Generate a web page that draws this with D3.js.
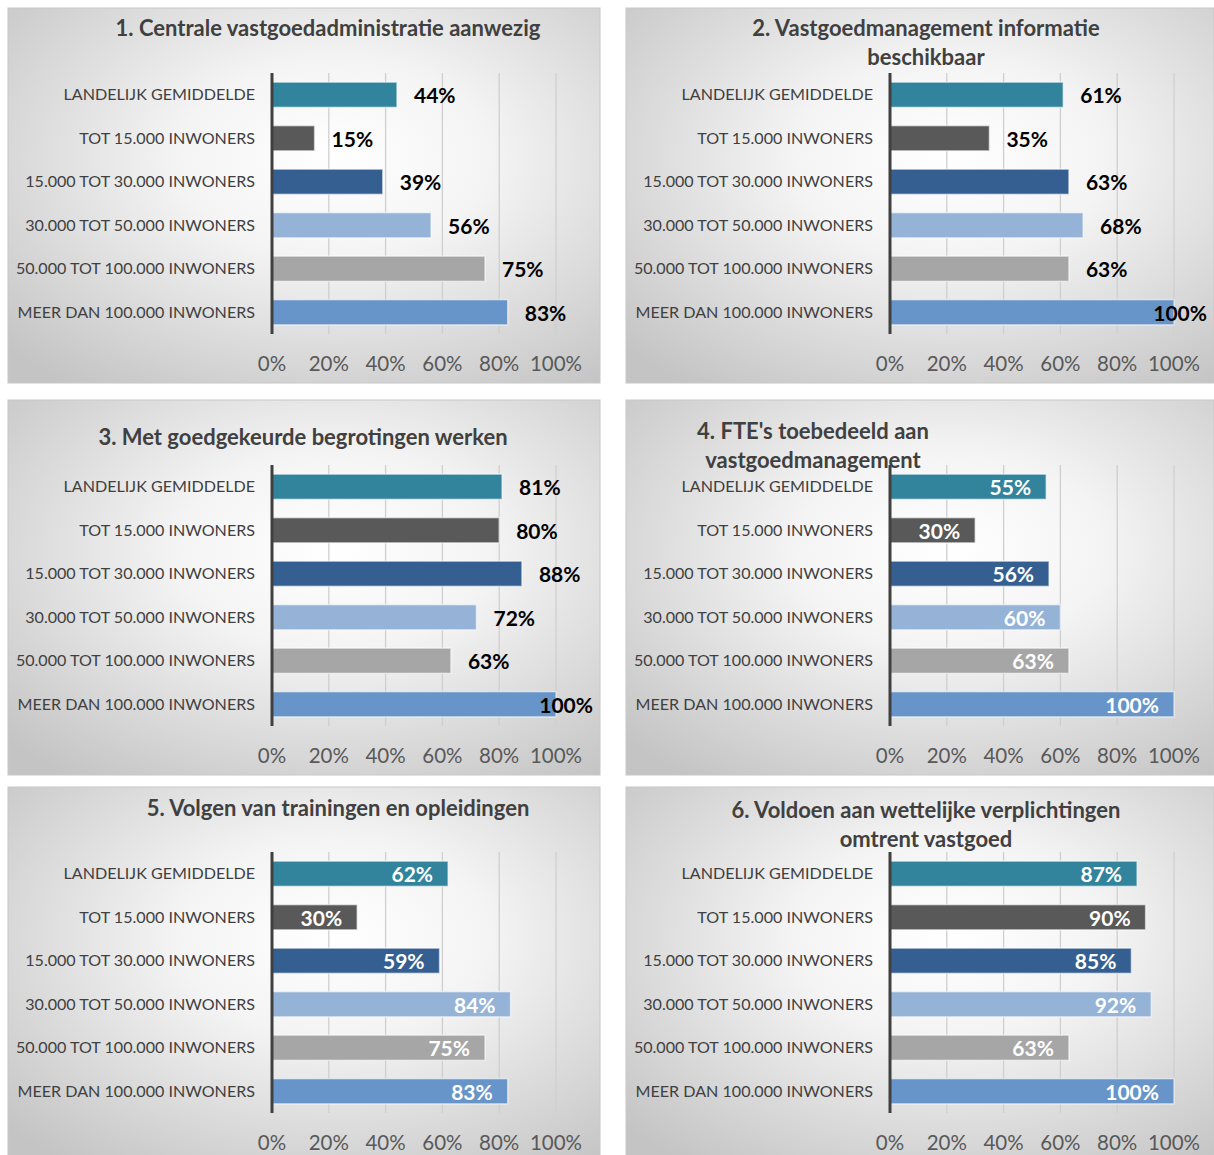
<!DOCTYPE html>
<html>
<head>
<meta charset="utf-8">
<script src="https://cdn.jsdelivr.net/npm/d3@7"></script>
<style>
  html, body { margin: 0; padding: 0; background: #ffffff; }
  svg { display: block; font-family: Lato, "Open Sans", sans-serif; }
</style>
</head>
<body>
<svg id="chart" width="1214" height="1155"></svg>
<script>
const categories = [
  "LANDELIJK GEMIDDELDE",
  "TOT 15.000 INWONERS",
  "15.000 TOT 30.000 INWONERS",
  "30.000 TOT 50.000 INWONERS",
  "50.000 TOT 100.000 INWONERS",
  "MEER DAN 100.000 INWONERS"
];
const tickValues = [0, 20, 40, 60, 80, 100];
const tickLabels = ["0%", "20%", "40%", "60%", "80%", "100%"];

const titles1 = ["1. Centrale vastgoedadministratie aanwezig"];
const titles2 = ["2. Vastgoedmanagement informatie", "beschikbaar"];
const titles3 = ["3. Met goedgekeurde begrotingen werken"];
const titles4 = ["4. FTE's toebedeeld aan", "vastgoedmanagement"];
const titles5 = ["5. Volgen van trainingen en opleidingen"];
const titles6 = ["6. Voldoen aan wettelijke verplichtingen", "omtrent vastgoed"];

const values1 = [44, 15, 39, 56, 75, 83];
const values2 = [61, 35, 63, 68, 63, 100];
const values3 = [81, 80, 88, 72, 63, 100];
const values4 = [55, 30, 56, 60, 63, 100];
const values5 = [62, 30, 59, 84, 75, 83];
const values6 = [87, 90, 85, 92, 63, 100];

const barColors = ["#31849B", "#595959", "#365F91", "#95B3D7", "#A6A6A6", "#6794C9"];

const panels = [
  { x: 8,   y: 8,   w: 592, titles: titles1, values: values1, inside: false, tx: 320, ty: 20 },
  { x: 626, y: 8,   w: 588, titles: titles2, values: values2, inside: false, tx: 300, ty: 20 },
  { x: 8,   y: 400, w: 592, titles: titles3, values: values3, inside: false, tx: 295, ty: 37 },
  { x: 626, y: 400, w: 588, titles: titles4, values: values4, inside: true,  tx: 187, ty: 31 },
  { x: 8,   y: 787, w: 592, titles: titles5, values: values5, inside: true,  tx: 330, ty: 21 },
  { x: 626, y: 787, w: 588, titles: titles6, values: values6, inside: true,  tx: 300, ty: 23 }
];

const svg = d3.select("#chart");
const defs = svg.append("defs");
const grad = defs.append("radialGradient")
  .attr("id", "bg").attr("cx", "55%").attr("cy", "40%").attr("r", "75%");
grad.append("stop").attr("offset", "0%").attr("stop-color", "#ffffff");
grad.append("stop").attr("offset", "35%").attr("stop-color", "#f4f4f4");
grad.append("stop").attr("offset", "100%").attr("stop-color", "#c4c4c4");

const PH = 375;
panels.forEach(p => {
  const g = svg.append("g").attr("transform", `translate(${p.x},${p.y})`);
  g.append("rect").attr("width", p.w).attr("height", PH)
    .attr("fill", "url(#bg)").attr("stroke", "#c8c8c8").attr("stroke-width", 1);

  const axisX = 264;
  const x = d3.scaleLinear().domain([0, 100]).range([axisX, axisX + 284]);
  const y = d3.scaleBand().domain(categories).range([65, 326]).paddingInner(0.42).paddingOuter(0.21);

  // gridlines
  g.selectAll("line.grid").data(tickValues.slice(1)).join("line")
    .attr("class", "grid")
    .attr("x1", d => x(d)).attr("x2", d => x(d))
    .attr("y1", 65).attr("y2", 326)
    .attr("stroke", "#cfcfcf").attr("stroke-width", 1.3);

  // bars
  g.selectAll("rect.bar").data(p.values).join("rect")
    .attr("class", "bar")
    .attr("x", x(0))
    .attr("y", (d, i) => y(categories[i]))
    .attr("width", d => x(d) - x(0))
    .attr("height", y.bandwidth())
    .attr("fill", (d, i) => barColors[i])
    .attr("stroke", "rgba(255,255,255,0.55)")
    .attr("stroke-width", 1.5);

  // axis line
  g.append("line").attr("x1", axisX).attr("x2", axisX).attr("y1", 65).attr("y2", 326)
    .attr("stroke", "#404040").attr("stroke-width", 3);

  // category labels
  g.selectAll("text.cat").data(categories).join("text")
    .attr("class", "cat")
    .attr("x", 247)
    .attr("y", d => y(d) + y.bandwidth() / 2)
    .attr("dy", "0.35em")
    .attr("text-anchor", "end")
    .attr("font-size", 16.1)
    .attr("fill", "#404040")
    .text(d => d);

  // tick labels
  g.selectAll("text.tick").data(tickValues).join("text")
    .attr("class", "tick")
    .attr("x", d => x(d))
    .attr("y", 356)
    .attr("dy", "0.35em")
    .attr("text-anchor", "middle")
    .attr("font-size", 20.5)
    .attr("fill", "#595959")
    .text((d, i) => tickLabels[i]);

  // value labels
  const vl = g.selectAll("text.val").data(p.values).join("text")
    .attr("class", "val")
    .attr("y", (d, i) => y(categories[i]) + y.bandwidth() / 2 + 1)
    .attr("dy", "0.35em")
    .attr("font-size", 21)
    .attr("font-weight", "bold")
    .text(d => d + "%");
  if (p.inside) {
    vl.attr("x", d => x(d) - 15).attr("text-anchor", "end").attr("fill", "#ffffff");
  } else {
    vl.attr("text-anchor", "start").attr("fill", "#000000")
      .attr("x", function(d) {
        const w = this.getComputedTextLength();
        return Math.min(x(d) + 17, p.w - 7 - w);
      });
  }

  // title
  g.selectAll("text.title").data(p.titles).join("text")
    .attr("class", "title")
    .attr("x", p.tx)
    .attr("y", (d, i) => p.ty + i * 29)
    .attr("dy", "0.35em")
    .attr("text-anchor", "middle")
    .attr("font-size", 22)
    .attr("font-weight", "bold")
    .attr("fill", "#404040")
    .text(d => d);
});
</script>
</body>
</html>
